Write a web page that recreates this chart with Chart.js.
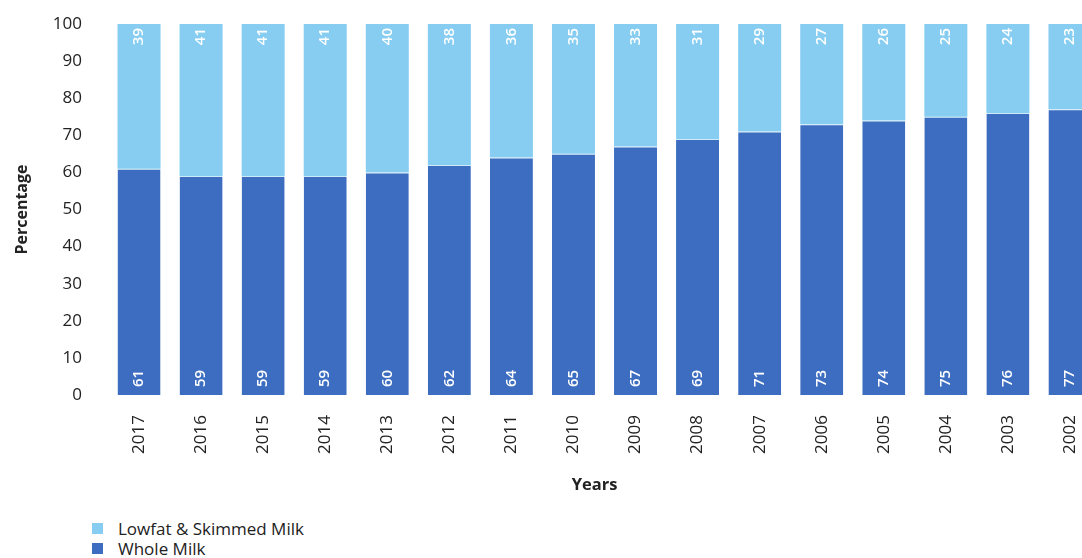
<!DOCTYPE html>
<html>
<head>
<meta charset="utf-8">
<script src="https://cdn.jsdelivr.net/npm/chart.js@4"></script>
<style>
  html, body { margin: 0; padding: 0; background: #fff; overflow: hidden; width: 1082px; height: 558px; }
  #wrap { position: absolute; left: 0; top: 0; width: 1101px; height: 500px; }
  #legend { position: absolute; left: 92px; top: 518px; font-family: "Open Sans", sans-serif; font-size: 17px; color: #222; }
  .row { display: flex; align-items: center; height: 20px; }
  .sw { width: 11px; height: 11px; margin-right: 15px; }
</style>
</head>
<body>
<div id="wrap"><canvas id="c" width="1101" height="500"></canvas></div>
<div id="legend"></div>
<script>
// Milk consumption share by year
const years = ['2017','2016','2015','2014','2013','2012','2011','2010','2009','2008','2007','2006','2005','2004','2003','2002'];
const wholeMilk = [61, 59, 59, 59, 60, 62, 64, 65, 67, 69, 71, 73, 74, 75, 76, 77];
const lowfatMilk = [39, 41, 41, 41, 40, 38, 36, 35, 33, 31, 29, 27, 26, 25, 24, 23];
const yTicks = [0, 10, 20, 30, 40, 50, 60, 70, 80, 90, 100];

const DARK = '#3c6dc0';
const LIGHT = '#86cdf1';
const FONT = '"Open Sans", sans-serif';

// Rotated white value labels inside each segment
const valueLabels = {
  id: 'valueLabels',
  afterDatasetsDraw(chart) {
    const ctx = chart.ctx;
    ctx.save();
    ctx.fillStyle = '#ffffff';
    ctx.font = '600 15px ' + FONT;
    ctx.textBaseline = 'middle';
    chart.data.datasets.forEach((ds, di) => {
      const meta = chart.getDatasetMeta(di);
      meta.data.forEach((bar, i) => {
        const v = ds.data[i];
        ctx.save();
        if (di === 0) {
          ctx.translate(bar.x, bar.base - 8);
          ctx.rotate(-Math.PI / 2);
          ctx.textAlign = 'left';
        } else {
          ctx.translate(bar.x, bar.y + 4);
          ctx.rotate(-Math.PI / 2);
          ctx.textAlign = 'right';
        }
        ctx.fillText(String(v), 0, 0);
        ctx.restore();
      });
    });
    ctx.restore();
  }
};

// Horizontal axis title, set a little left of the plot centre
const xTitle = {
  id: 'xTitle',
  afterDraw(chart) {
    const ctx = chart.ctx;
    const a = chart.chartArea;
    ctx.save();
    ctx.fillStyle = '#222';
    ctx.font = 'bold 16.5px ' + FONT;
    ctx.textAlign = 'center';
    ctx.textBaseline = 'middle';
    ctx.fillText('Years', (a.left + a.right) / 2 - 10, 485);
    ctx.restore();
  }
};

const chart = new Chart(document.getElementById('c'), {
  type: 'bar',
  data: {
    labels: years,
    datasets: [
      { label: 'Whole Milk', data: wholeMilk, backgroundColor: DARK,
        borderColor: '#cdeaf9', borderWidth: { top: 1, left: 0, right: 0, bottom: 0 }, borderSkipped: false },
      { label: 'Lowfat & Skimmed Milk', data: lowfatMilk, backgroundColor: LIGHT, borderWidth: 0 }
    ]
  },
  options: {
    responsive: false,
    animation: false,
    layout: { padding: { top: 24, left: 0, right: 0, bottom: 0 } },
    plugins: { legend: { display: false }, tooltip: { enabled: false } },
    datasets: { bar: { categoryPercentage: 1, barPercentage: 0.693 } },
    scales: {
      x: {
        stacked: true,
        grid: { display: false, drawTicks: false },
        border: { display: false },
        ticks: { color: '#222', font: { family: FONT, size: 17 }, minRotation: 90, maxRotation: 90, padding: 20 },
        afterFit(scale) { scale.height = 105; scale.paddingLeft = 0; scale.paddingRight = 0; }
      },
      y: {
        stacked: true,
        min: 0, max: 100,
        grid: { display: false, drawTicks: false },
        border: { display: false },
        afterBuildTicks(scale) { scale.ticks = yTicks.map(v => ({ value: v })); },
        ticks: { color: '#222', font: { family: FONT, size: 17 }, padding: 26 },
        title: { display: true, text: 'Percentage', color: '#222', font: { family: FONT, size: 16, weight: 'bold' }, padding: { top: 13, bottom: 0 } },
        afterFit(scale) { scale.width = 108; scale.paddingTop = 0; scale.paddingBottom = 0; }
      }
    }
  },
  plugins: [valueLabels, xTitle]
});

// Legend listed top-down, light series first
const legend = document.getElementById('legend');
[...chart.data.datasets].reverse().forEach(ds => {
  const row = document.createElement('div');
  row.className = 'row';
  const sw = document.createElement('span');
  sw.className = 'sw';
  sw.style.background = ds.backgroundColor;
  const t = document.createElement('span');
  t.textContent = ds.label;
  row.appendChild(sw);
  row.appendChild(t);
  legend.appendChild(row);
});
</script>
</body>
</html>
